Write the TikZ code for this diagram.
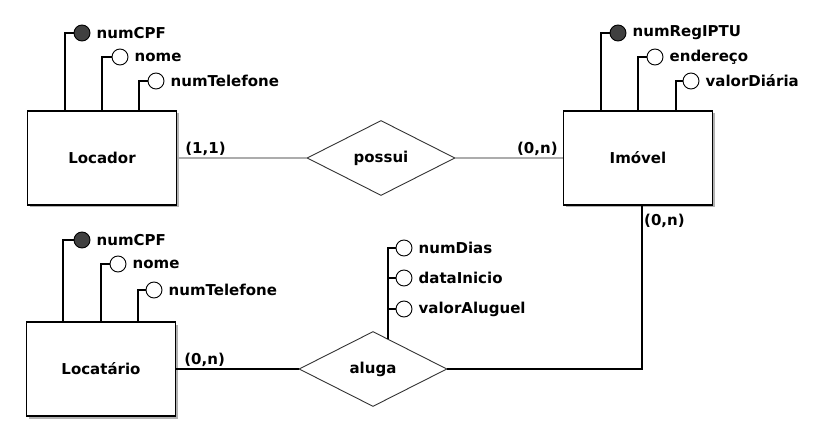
\documentclass[tikz,border=0pt]{standalone}
\usepackage{fontspec}
\setmainfont{DejaVu Sans}
\usetikzlibrary{shapes.geometric,shadows,positioning,calc}

\begin{document}
\begin{tikzpicture}[x=1pt, y=1pt, node distance=6pt, font=\bfseries\fontsize{15}{17}\selectfont]
    % Styles
    \tikzstyle{entityblock} = [rectangle, draw, line width=1.3pt, fill=white,
        minimum width=149pt, minimum height=94pt,
        general shadow={fill=gray!60, shadow xshift=2.5pt, shadow yshift=-2.5pt}]
    \tikzstyle{relblock} = [diamond, draw=black!80, line width=0.9pt, fill=white,
        inner sep=0pt, minimum width=148pt, minimum height=75pt]
    \tikzstyle{keycircle} = [circle, draw, fill=black!75, minimum size=16pt, inner sep=0pt, line width=0.9pt]
    \tikzstyle{attrcircle} = [circle, draw, fill=white, minimum size=16pt, inner sep=0pt, line width=0.9pt]
    \tikzstyle{attrlabel} = [inner sep=0pt]
    \tikzstyle{cardlabel} = [inner sep=2pt]
    \tikzstyle{link} = [line width=1.3pt]
    \tikzstyle{graylink} = [line width=2.6pt, draw=gray!65]

    \useasboundingbox (0,0) rectangle (815,440);

    % === ENTITIES AND RELATIONSHIPS ===
    \node [entityblock] (locador) at (102,282) {Locador};
    \node [relblock] (possui) at (381,282) {possui};
    \node [entityblock] (imovel) at (638,282) {Imóvel};
    \node [entityblock] (locatario) at (101,71) {Locatário};
    \node [relblock] (aluga) at (373,71) {aluga};

    % === ATTRIBUTES: Locador ===
    \node [keycircle] (lcpf) at (82,407) {};
    \node [attrcircle] (lnome) at (120,383) {};
    \node [attrcircle] (ltel) at (156,359) {};
    \node [attrlabel, right=of lcpf] (lcpftext) {numCPF};
    \node [attrlabel, right=of lnome] (lnometext) {nome};
    \node [attrlabel, right=of ltel] (lteltext) {numTelefone};
    \draw [link] (lcpf.west) -| ([xshift=38pt]locador.north west);
    \draw [link] (lnome.west) -| ([xshift=75pt]locador.north west);
    \draw [link] (ltel.west) -| ([xshift=112pt]locador.north west);

    % === ATTRIBUTES: Imóvel ===
    \node [keycircle] (iptu) at (618,407) {};
    \node [attrcircle] (iend) at (655,383) {};
    \node [attrcircle] (ival) at (691,359) {};
    \node [attrlabel, right=of iptu] (iptutext) {numRegIPTU};
    \node [attrlabel, right=of iend] (iendtext) {endereço};
    \node [attrlabel, right=of ival] (ivaltext) {valorDiária};
    \draw [link] (iptu.west) -| ([xshift=38pt]imovel.north west);
    \draw [link] (iend.west) -| ([xshift=75pt]imovel.north west);
    \draw [link] (ival.west) -| ([xshift=113pt]imovel.north west);

    % === ATTRIBUTES: Locatário ===
    \node [keycircle] (tcpf) at (82,200) {};
    \node [attrcircle] (tnome) at (118,176) {};
    \node [attrcircle] (ttel) at (154,150) {};
    \node [attrlabel, right=of tcpf] (tcpftext) {numCPF};
    \node [attrlabel, right=of tnome] (tnometext) {nome};
    \node [attrlabel, right=of ttel] (tteltext) {numTelefone};
    \draw [link] (tcpf.west) -| ([xshift=37pt]locatario.north west);
    \draw [link] (tnome.west) -| ([xshift=75pt]locatario.north west);
    \draw [link] (ttel.west) -| ([xshift=112pt]locatario.north west);

    % === ATTRIBUTES: aluga ===
    \node [attrcircle] (adias) at (404,192) {};
    \node [attrcircle] (adata) at (404,162) {};
    \node [attrcircle] (avalor) at (404,131) {};
    \node [attrlabel, right=of adias] (adiastext) {numDias};
    \node [attrlabel, right=of adata] (adatatext) {dataInicio};
    \node [attrlabel, right=of avalor] (avalortext) {valorAluguel};
    \draw [link] ($(aluga.north)!0.2!(aluga.east)$) |- (adias.west);
    \draw [link] (adata.west) -- ++(-8,0);
    \draw [link] (avalor.west) -- ++(-8,0);

    % === CONNECTORS ===
    \draw [graylink] (locador) -- (possui);
    \draw [graylink] (possui) -- (imovel);
    \draw [link] (locatario) -- (aluga);
    \draw [link] (aluga.east) -| ([xshift=4pt]imovel.south);

    % === Cardinalities ===
    \node [cardlabel, above right=0pt and 6pt of locador.east] (c11) {(1,1)};
    \node [cardlabel, above left=0pt and 3pt of imovel.west] (c0n1) {(0,n)};
    \node [cardlabel, above right=0pt and 6pt of locatario.east] (c0n2) {(0,n)};
    \node [cardlabel, below right=6pt and 4pt of imovel.south] (c0n3) {(0,n)};
\end{tikzpicture}
\end{document}
